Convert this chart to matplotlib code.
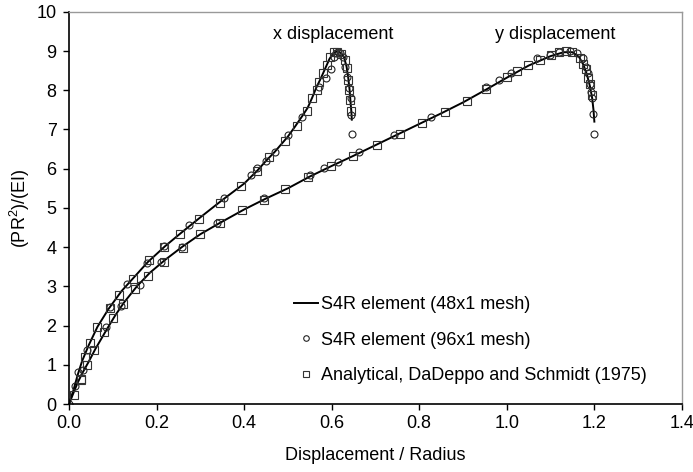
import matplotlib
matplotlib.use("Agg")
import matplotlib.pyplot as plt

plt.rcParams['font.family'] = ['Liberation Sans', 'DejaVu Sans']
plt.rcParams['mathtext.fontset'] = 'custom'
plt.rcParams['mathtext.rm'] = 'Liberation Sans'
plt.rcParams['mathtext.it'] = 'Liberation Sans:italic'

# x displacement: S4R 48x1 mesh (line)
xd_line_x = [0.0, 0.01, 0.02, 0.03, 0.045, 0.065, 0.09, 0.12, 0.15, 0.18, 0.22, 0.26, 0.30, 0.35, 0.40,
             0.43, 0.45, 0.47, 0.50, 0.516, 0.532, 0.545, 0.555, 0.565, 0.575, 0.585, 0.595, 0.604,
             0.612, 0.62, 0.628, 0.634, 0.638, 0.641, 0.643, 0.645, 0.646]
xd_line_y = [0.0, 0.35, 0.75, 1.1, 1.5, 1.97, 2.42, 2.88, 3.25, 3.62, 4.03, 4.4, 4.76, 5.2, 5.62,
             5.95, 6.2, 6.43, 6.82, 7.07, 7.33, 7.55, 7.8, 8.07, 8.3, 8.55, 8.8, 8.95,
             8.99, 8.96, 8.85, 8.6, 8.3, 8.0, 7.7, 7.45, 7.25]

# x displacement: S4R 96x1 mesh (circles)
xd_circ_x = [0.0, 0.014, 0.021, 0.04, 0.094, 0.132, 0.178, 0.217, 0.275, 0.354, 0.415, 0.43, 0.449,
             0.471, 0.501, 0.532, 0.57, 0.587, 0.598, 0.605, 0.61, 0.615, 0.62, 0.626, 0.631, 0.636,
             0.64, 0.643, 0.644, 0.646]
xd_circ_y = [0.0, 0.46, 0.82, 1.38, 2.48, 3.06, 3.59, 4.03, 4.57, 5.25, 5.83, 6.02, 6.2,
             6.43, 6.85, 7.33, 8.09, 8.3, 8.55, 8.85, 8.95, 8.97, 8.95, 8.85, 8.6, 8.35,
             8.05, 7.8, 7.37, 6.88]

# x displacement: analytical (squares)
xd_sq_x = [0.011, 0.028, 0.036, 0.048, 0.065, 0.094, 0.115, 0.146, 0.182, 0.217, 0.254, 0.297, 0.345,
           0.393, 0.43, 0.457, 0.494, 0.52, 0.543, 0.556, 0.566, 0.572, 0.58, 0.589, 0.596, 0.605,
           0.613, 0.621, 0.631, 0.635, 0.638, 0.64, 0.642, 0.645]
xd_sq_y = [0.23, 0.64, 1.19, 1.56, 1.97, 2.44, 2.78, 3.2, 3.66, 4.0, 4.34, 4.72, 5.13,
           5.55, 5.93, 6.31, 6.71, 7.08, 7.46, 7.8, 8.0, 8.22, 8.44, 8.65, 8.86, 8.97,
           8.98, 8.92, 8.78, 8.56, 8.26, 8.0, 7.74, 7.46]

# y displacement: S4R 48x1 mesh (line)
yd_line_x = [0.0, 0.01, 0.02, 0.03, 0.045, 0.06, 0.085, 0.105, 0.125, 0.155, 0.185, 0.22, 0.26, 0.30,
             0.345, 0.40, 0.45, 0.50, 0.55, 0.60, 0.65, 0.70, 0.75, 0.80, 0.85, 0.90, 0.95, 1.0,
             1.05, 1.10, 1.13, 1.15, 1.165, 1.175, 1.183, 1.19, 1.195, 1.198, 1.2]
yd_line_y = [0.0, 0.28, 0.55, 0.78, 1.08, 1.4, 1.88, 2.25, 2.58, 3.0, 3.35, 3.68, 4.02, 4.33,
             4.62, 4.96, 5.24, 5.5, 5.8, 6.07, 6.33, 6.6, 6.87, 7.14, 7.41, 7.69, 8.0, 8.32,
             8.63, 8.87, 8.97, 8.97, 8.85, 8.65, 8.4, 8.1, 7.8, 7.5, 7.2]

# y displacement: S4R 96x1 mesh (circles)
yd_circ_x = [0.033, 0.085, 0.119, 0.162, 0.209, 0.257, 0.338, 0.446, 0.55, 0.582, 0.615, 0.663, 0.743,
             0.827, 0.953, 0.983, 1.009, 1.069, 1.099, 1.12, 1.145, 1.16, 1.173, 1.18, 1.185, 1.19,
             1.193, 1.195, 1.198, 1.2]
yd_circ_y = [0.87, 1.97, 2.5, 3.04, 3.62, 4.0, 4.62, 5.26, 5.85, 6.02, 6.17, 6.43, 6.85,
             7.32, 8.09, 8.26, 8.43, 8.81, 8.91, 8.98, 9.0, 8.94, 8.81, 8.6, 8.43, 8.17,
             7.96, 7.79, 7.4, 6.89]

# y displacement: analytical (squares)
yd_sq_x = [0.027, 0.04, 0.056, 0.081, 0.1, 0.123, 0.151, 0.181, 0.216, 0.26, 0.3, 0.345, 0.395,
           0.446, 0.494, 0.547, 0.598, 0.649, 0.703, 0.757, 0.807, 0.859, 0.908, 0.953, 1.0,
           1.024, 1.049, 1.076, 1.102, 1.12, 1.135, 1.15, 1.167, 1.175, 1.18, 1.185, 1.19, 1.195]
yd_sq_y = [0.61, 0.99, 1.38, 1.84, 2.19, 2.55, 2.93, 3.27, 3.63, 3.99, 4.34, 4.61, 4.94,
           5.21, 5.47, 5.79, 6.06, 6.32, 6.61, 6.89, 7.17, 7.45, 7.73, 8.04, 8.34,
           8.49, 8.64, 8.78, 8.89, 8.98, 9.0, 8.98, 8.83, 8.68, 8.55, 8.3, 8.17, 7.89]

x_ticks = [0.0, 0.2, 0.4, 0.6, 0.8, 1.0, 1.2, 1.4]
y_ticks = list(range(0, 11))

fig = plt.figure(figsize=(6.93, 4.72), dpi=100)
ax = fig.add_axes([0.0996, 0.144, 0.8844, 0.831])

circ_style = dict(linestyle='none', marker='o', markersize=5, markerfacecolor='none',
                  markeredgecolor='#222222', markeredgewidth=0.8)
sq_style = dict(linestyle='none', marker='s', markersize=5.5, markerfacecolor='none',
                markeredgecolor='#333333', markeredgewidth=0.8)

ax.plot(xd_line_x, xd_line_y, color='black', linewidth=1.4, label='S4R element (48x1 mesh)')
ax.plot(yd_line_x, yd_line_y, color='black', linewidth=1.4)
ax.plot(xd_circ_x, xd_circ_y, label='S4R element (96x1 mesh)', **circ_style)
ax.plot(yd_circ_x, yd_circ_y, **circ_style)
ax.plot(xd_sq_x, xd_sq_y, label='Analytical, DaDeppo and Schmidt (1975)', **sq_style)
ax.plot(yd_sq_x, yd_sq_y, **sq_style)

ax.set_xlim(0, 1.4)
ax.set_ylim(0, 10)
ax.set_xticks(x_ticks)
ax.set_xticklabels(['%.1f' % v for v in x_ticks])
ax.set_yticks(y_ticks)
ax.tick_params(direction='out', length=4, width=1, labelsize=13, top=False, right=False)
ax.tick_params(axis='y', pad=5)
ax.tick_params(axis='x', pad=4)

for side in ['top', 'right']:
    ax.spines[side].set_color('#999999')
    ax.spines[side].set_linewidth(1)
for side in ['left', 'bottom']:
    ax.spines[side].set_color('black')
    ax.spines[side].set_linewidth(1.2)

ax.set_xlabel('Displacement / Radius', fontsize=13, labelpad=11)
ax.set_ylabel('(PR$^2$)/(EI)', fontsize=13, labelpad=3)

ax.text(0.603, 9.42, 'x displacement', ha='center', va='center', fontsize=13)
ax.text(1.11, 9.42, 'y displacement', ha='center', va='center', fontsize=13)

leg = ax.legend(loc='upper left', bbox_to_anchor=(0.352, 0.298), frameon=False, fontsize=13,
                handlelength=1.33, handletextpad=0.2, labelspacing=1.02, borderpad=0,
                markerscale=0.8)

fig.savefig('out.png', dpi=100)
